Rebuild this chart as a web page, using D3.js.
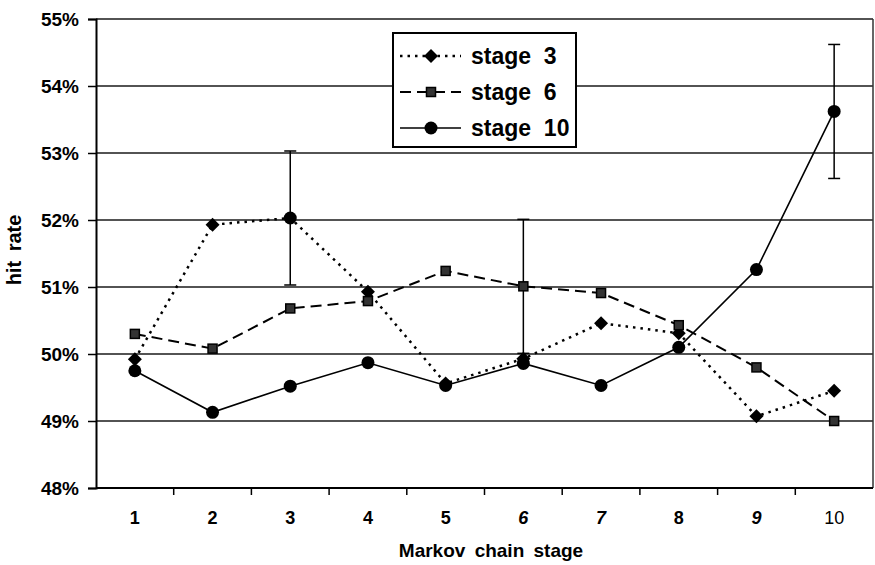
<!DOCTYPE html>
<html>
<head>
<meta charset="utf-8">
<script src="https://cdn.jsdelivr.net/npm/d3@7"></script>
<style>
  body { margin: 0; background: #fff; }
  text { font-family: "Liberation Sans", Arial, sans-serif; }
</style>
</head>
<body>
<svg id="chart"></svg>
<script>
const width  = 875
const height = 565

// data
const stages = ["1", "2", "3", "4", "5", "6", "7", "8", "9", "10"]
const seriesNames = ["stage  3", "stage  6", "stage  10"]
const stage3  = [49.92, 51.93, 52.03, 50.93, 49.56, 49.93, 50.46, 50.31, 49.07, 49.45]
const stage6  = [50.30, 50.08, 50.68, 50.79, 51.24, 51.01, 50.91, 50.43, 49.80, 49.00]
const stage10 = [49.75, 49.13, 49.52, 49.87, 49.53, 49.86, 49.53, 50.10, 51.26, 53.62]
const yTicks  = [48, 49, 50, 51, 52, 53, 54, 55]
// error bars: which series, at which stage, half width in percent points
const errSeries = [0, 1, 2]
const errStage  = ["3", "6", "10"]
const errHalf   = [1, 1, 1]

const seriesValues = [stage3, stage6, stage10]

const margin = {top: 19, right: 2, bottom: 77, left: 96}

let svg = d3.select("#chart")
            .attr("width", width)
            .attr("height", height)

const x = d3.scaleBand()
    .domain(stages)
    .range([margin.left, width - margin.right])
    .padding(0)

const y = d3.scaleLinear()
    .domain([48, 55])
    .range([height - margin.bottom, margin.top])

const cx = s => x(s) + x.bandwidth() / 2

// grid lines
svg.append("g")
    .selectAll("line")
    .data(yTicks.slice(1))
    .enter().append("line")
    .attr("x1", margin.left)
    .attr("x2", width - margin.right)
    .attr("y1", d => y(d))
    .attr("y2", d => y(d))
    .style("stroke", "#1a1a1a")
    .style("stroke-width", 1.4)

// right border
svg.append("line")
    .attr("x1", width - margin.right).attr("x2", width - margin.right)
    .attr("y1", y(55)).attr("y2", y(48))
    .style("stroke", "#333")
    .style("stroke-width", 1.5)

// y axis
const yAxis = d3.axisLeft(y)
    .tickValues(yTicks)
    .tickSize(8)
    .tickFormat(d => d + "%")
const gy = svg.append("g")
    .attr("transform", `translate(${margin.left},0)`)
    .call(yAxis)
gy.select(".domain").style("stroke", "#000").style("stroke-width", 2)
gy.selectAll(".tick line").style("stroke", "#000").style("stroke-width", 1.5)
gy.selectAll(".tick text")
    .attr("x", -17)
    .style("font-size", "19px")
    .style("font-weight", "bold")
    .style("font-family", '"Liberation Sans", Arial, sans-serif')
    .style("fill", "#000")

// x axis: ticks sit between categories
const gx = svg.append("g")
    .attr("transform", `translate(0,${y(48)})`)
gx.append("line")
    .attr("x1", margin.left).attr("x2", width - margin.right)
    .style("stroke", "#000").style("stroke-width", 2)
gx.selectAll(".sep")
    .data(stages.slice(1))
    .enter().append("line")
    .attr("class", "sep")
    .attr("x1", d => x(d)).attr("x2", d => x(d))
    .attr("y1", 0).attr("y2", 7)
    .style("stroke", "#000").style("stroke-width", 1.5)
gx.selectAll(".lab")
    .data(stages)
    .enter().append("text")
    .attr("class", "lab")
    .attr("x", d => cx(d))
    .attr("y", 36)
    .attr("text-anchor", "middle")
    .style("font-size", "18px")
    .style("font-weight", d => d === "10" ? "normal" : "bold")
    .style("font-style", d => (d === "6" || d === "7" || d === "9") ? "italic" : "normal")
    .text(d => d)

// axis titles
svg.append("text")
    .attr("x", 491)
    .attr("y", 557)
    .attr("text-anchor", "middle")
    .style("font-size", "19px")
    .style("font-weight", "bold")
    .style("word-spacing", "4px")
    .text("Markov chain stage")

svg.append("text")
    .attr("transform", "translate(21,250) rotate(-90)")
    .attr("text-anchor", "middle")
    .style("font-size", "20px")
    .style("font-weight", "bold")
    .style("word-spacing", "4px")
    .text("hit rate")

// line styles per series
const dashes  = ["2.5,5", "11,6", null]
const widths  = [2.5, 2, 1.6]

const drawMarker = (g, i, px, py) => {
    if (i === 0) {
        const r = 7
        g.append("path")
            .attr("d", `M0,${-r}L${r},0L0,${r}L${-r},0Z`)
            .attr("transform", `translate(${px},${py})`)
            .style("fill", "#000")
    } else if (i === 1) {
        g.append("rect")
            .attr("x", -4.5).attr("y", -4.5)
            .attr("transform", `translate(${px},${py})`)
            .attr("width", 9).attr("height", 9)
            .style("fill", "#333").style("stroke", "#000").style("stroke-width", 1.5)
    } else {
        g.append("circle")
            .attr("cx", px).attr("cy", py).attr("r", 6.5)
            .style("fill", "#000")
    }
}

// error bars
errSeries.forEach((s, k) => {
    const v = seriesValues[s][stages.indexOf(errStage[k])]
    const px = cx(errStage[k])
    const g = svg.append("g").style("stroke", "#000").style("stroke-width", 1.5)
    g.append("line").attr("x1", px).attr("x2", px)
        .attr("y1", y(v - errHalf[k])).attr("y2", y(v + errHalf[k]))
    g.selectAll(".cap")
        .data([v - errHalf[k], v + errHalf[k]])
        .enter().append("line")
        .attr("x1", px - 6).attr("x2", px + 6)
        .attr("y1", d => y(d)).attr("y2", d => y(d))
})

// series lines and markers
const line = d3.line()
    .x((d, i) => cx(stages[i]))
    .y(d => y(d))

seriesValues.forEach((vals, i) => {
    svg.append("path")
        .datum(vals)
        .attr("d", line)
        .style("fill", "none")
        .style("stroke", "#000")
        .style("stroke-width", widths[i])
        .style("stroke-dasharray", dashes[i])
    const g = svg.append("g")
    vals.forEach((v, j) => {
        // the stage-3 series is drawn with a round dot at its own error bar
        const m = (i === 0 && stages[j] === "3") ? 2 : i
        drawMarker(g, m, cx(stages[j]), y(v))
    })
})

// legend
const legend = svg.append("g")
legend.append("rect")
    .attr("x", 393).attr("y", 33)
    .attr("width", 183).attr("height", 114)
    .style("fill", "#fff")
    .style("stroke", "#000")
    .style("stroke-width", 2)

seriesNames.forEach((name, i) => {
    const ly = 56 + i * 36
    legend.append("line")
        .attr("x1", 400).attr("x2", 461)
        .attr("y1", ly).attr("y2", ly)
        .style("stroke", "#000")
        .style("stroke-width", widths[i])
        .style("stroke-dasharray", dashes[i])
    drawMarker(legend, i, 431, ly)
    legend.append("text")
        .attr("x", 471)
        .attr("y", ly + 8)
        .attr("xml:space", "preserve")
        .style("white-space", "pre")
        .style("font-size", "23px")
        .style("font-weight", "bold")
        .text(name)
})
</script>
</body>
</html>
